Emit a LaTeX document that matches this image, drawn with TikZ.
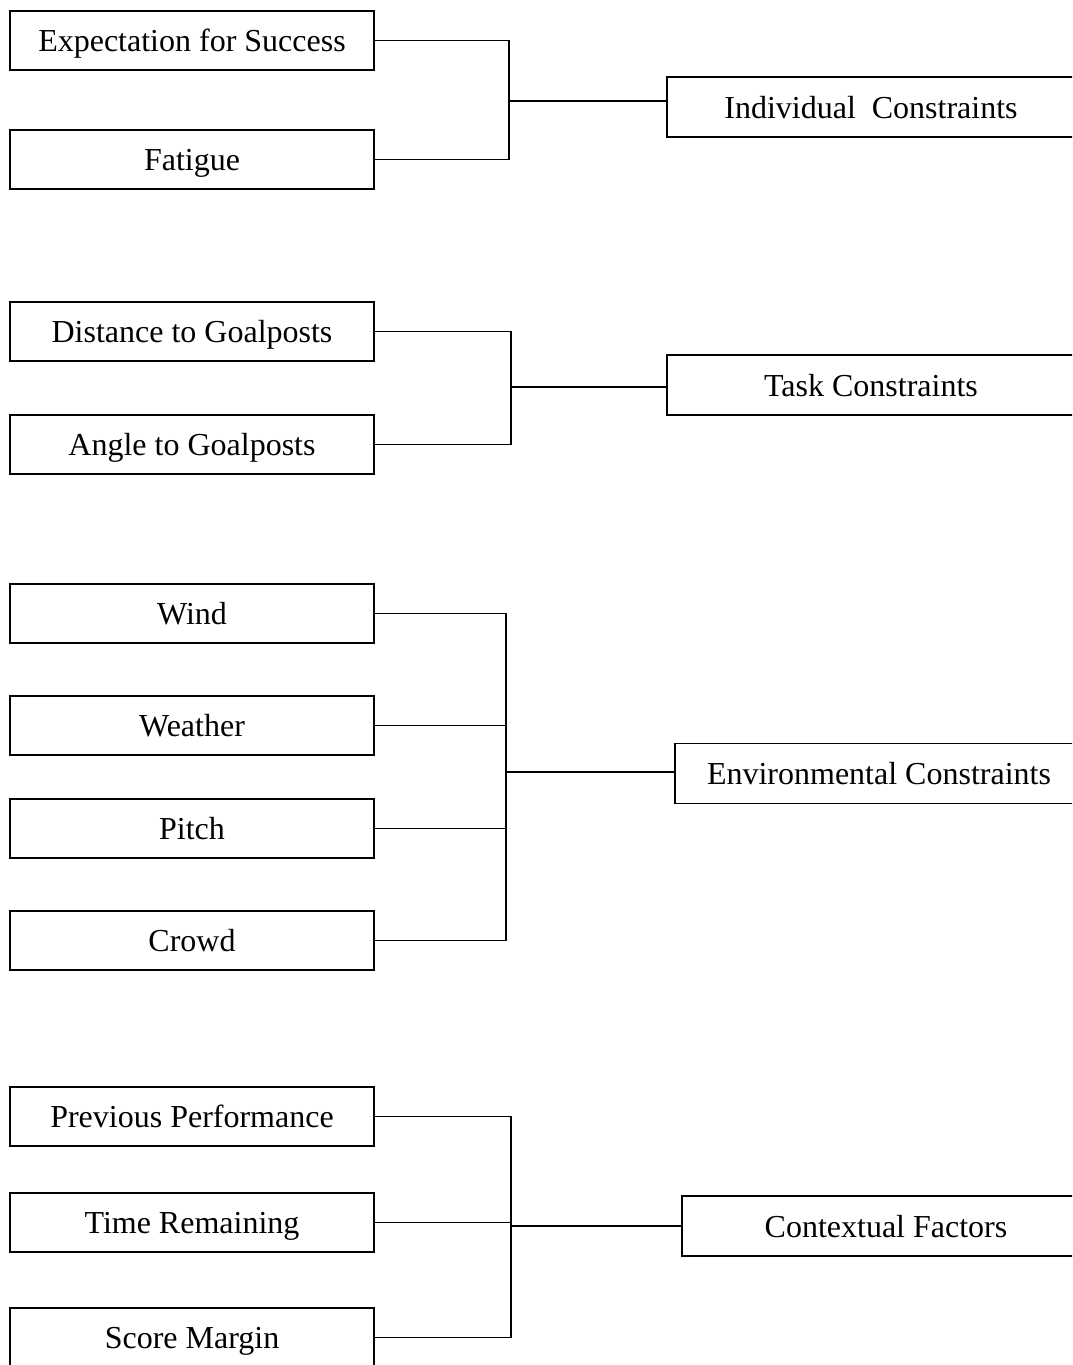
\documentclass[tikz,border=0pt]{standalone}
\usepackage{fontspec}
\setmainfont{Liberation Serif}
\usepackage{tikz}
\usetikzlibrary{positioning, calc}

\tikzset{
  leftbox/.style={draw, line width=1.3pt, minimum width=273pt, minimum height=44.5pt,
    inner sep=0pt, text height=22pt, text depth=5pt, font=\fontsize{24}{28}\selectfont},
  rightbox/.style={draw, line width=1.3pt, minimum width=306pt, minimum height=45pt,
    inner sep=0pt, text height=22pt, text depth=5pt, font=\fontsize{24}{28}\selectfont},
  link/.style={line width=0.9pt}
}

\begin{document}
\begin{tikzpicture}[x=0.75pt, y=-0.75pt]
\useasboundingbox (0,0) rectangle (1072,1365);
\clip (0,0) rectangle (1072,1365);

% --- Left boxes ---
\foreach \n/\y/\txt in {exp/40.5/Expectation for Success, fat/159.5/Fatigue,
                        dist/331.5/Distance to Goalposts, ang/444.5/Angle to Goalposts,
                        wind/613.5/Wind, weath/725.5/Weather, pitch/828.5/Pitch, crowd/940.5/Crowd,
                        prev/1116.5/Previous Performance, time/1222.5/Time Remaining,
                        score/1337.5/Score Margin}{
  \node[leftbox] (\n) at (192,\y) {\txt};
}

% --- Right boxes ---
\node[rightbox] (ind) at (871,107) {Individual\ \ Constraints};
\node[rightbox] (task) at (871,385) {Task Constraints};
\node[rightbox] (env) at (879,773.5) {Environmental Constraints};
\node[rightbox] (ctx) at (886,1226) {Contextual Factors};

% --- Junctions ---
\coordinate (jI) at (509,101);
\coordinate (jT) at (511,387);
\coordinate (jE) at (506,772);
\coordinate (jC) at (511,1226);

% --- Individual constraints ---
\draw[link] (exp.east) -| (jI) |- (fat.east);
\draw[link] (jI) -- (jI -| ind.west);

% --- Task constraints ---
\draw[link] (dist.east) -| (jT) |- (ang.east);
\draw[link] (jT) -- (jT -| task.west);

% --- Environmental constraints ---
\draw[link] (wind.east) -| (jE) |- (crowd.east);
\draw[link] (weath.east) -- (weath.east -| jE);
\draw[link] (pitch.east) -- (pitch.east -| jE);
\draw[link] (jE) -- (jE -| env.west);

% --- Contextual factors ---
\draw[link] (prev.east) -| (jC) |- (score.east);
\draw[link] (time.east) -- (time.east -| jC);
\draw[link] (jC) -- (jC -| ctx.west);
\end{tikzpicture}
\end{document}
